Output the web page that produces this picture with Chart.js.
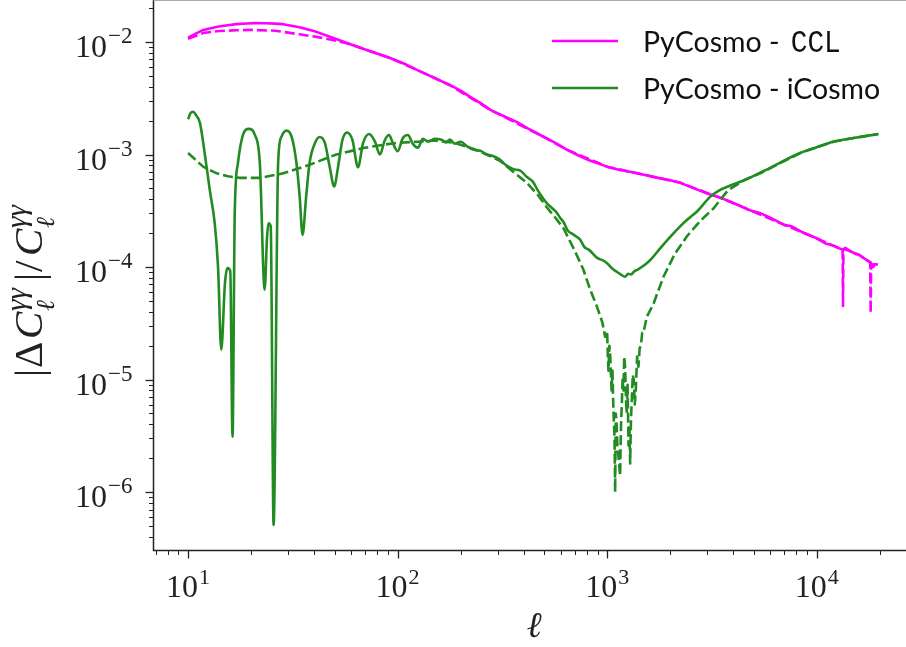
<!DOCTYPE html>
<html>
<head>
<meta charset="utf-8">
<script src="https://cdn.jsdelivr.net/npm/chart.js@4.4.1/dist/chart.umd.min.js"></script>
<style>
  html, body { margin: 0; padding: 0; overflow: hidden; background: #fff; }
</style>
</head>
<body>
<canvas id="plot" width="916" height="647"></canvas>
<script>
// PyCosmo - CCL, solid
const cclEll = [10, 11, 11.8, 13, 14, 15.5, 17, 19, 21, 23.5, 26, 28.4, 34, 41, 49, 59, 73.5, 92, 110, 125, 150, 177, 200, 222, 250, 277, 320, 370, 420, 479, 560, 645, 730, 820, 1000, 1150, 1300, 1500, 1750, 2000, 2240, 2600, 3000, 3400, 3870, 4300, 4800, 5400, 6000, 7000, 7600, 8500, 10000, 11000, 12000, 13000, 13360, 13700, 14500, 15500, 16000, 17000, 18100, 18600, 19000, 19600];
const cclRel = [1.09e-2, 1.2e-2, 1.28e-2, 1.33e-2, 1.37e-2, 1.41e-2, 1.44e-2, 1.46e-2, 1.47e-2, 1.465e-2, 1.455e-2, 1.44e-2, 1.35e-2, 1.23e-2, 1.09e-2, 9.6e-3, 8.3e-3, 7.2e-3, 6.3e-3, 5.6e-3, 4.8e-3, 4.15e-3, 3.7e-3, 3.25e-3, 2.85e-3, 2.49e-3, 2.2e-3, 1.95e-3, 1.7e-3, 1.49e-3, 1.28e-3, 1.1e-3, 9.8e-4, 8.9e-4, 7.8e-4, 7.3e-4, 7.0e-4, 6.6e-4, 6.2e-4, 5.9e-4, 5.6e-4, 5.0e-4, 4.5e-4, 4.2e-4, 3.8e-4, 3.5e-4, 3.2e-4, 3.0e-4, 2.75e-4, 2.37e-4, 2.3e-4, 2.05e-4, 1.8e-4, 1.62e-4, 1.55e-4, 1.45e-4, 1.42e-4, 1.48e-4, 1.38e-4, 1.3e-4, 1.28e-4, 1.18e-4, 1.1e-4, 1.0e-4, 1.06e-4, 1.05e-4];

// PyCosmo - CCL, dashed
const cclDashEll = [10, 11.8, 14, 17, 19.8, 26, 34, 41, 49, 55, 59, 73.5, 92, 125, 177, 277, 479, 645, 1000, 1500, 2240, 3870, 4800, 7000, 10000, 12000, 13000, 13300, 13360, 13420, 14500, 16000, 17000, 18000, 18100, 18200, 19000, 19600];
const cclDashRel = [1.07e-2, 1.2e-2, 1.25e-2, 1.27e-2, 1.28e-2, 1.26e-2, 1.17e-2, 1.11e-2, 1.04e-2, 9.9e-3, 9.6e-3, 8.3e-3, 7.2e-3, 5.6e-3, 4.15e-3, 2.49e-3, 1.49e-3, 1.1e-3, 7.8e-4, 6.6e-4, 5.6e-4, 3.8e-4, 3.2e-4, 2.37e-4, 1.8e-4, 1.55e-4, 1.45e-4, 1.42e-4, 4.5e-5, 1.45e-4, 1.38e-4, 1.28e-4, 1.18e-4, 1.1e-4, 3.9e-5, 1.05e-4, 1.06e-4, 1.05e-4];

// PyCosmo - iCosmo, solid
const icoEll = [10, 10.3, 10.56, 10.9, 11.4, 12.0, 12.7, 13.4, 13.9, 14.4, 15.0, 15.4, 15.9, 16.3, 16.7, 17.3, 18.3, 19.5, 20.8, 22, 23.2, 23.8, 24.2, 24.8, 25.6, 26.9, 27.9, 29.5, 31.2, 32.9, 34.1, 35.2, 36.6, 38, 40.3, 42.5, 45, 47.4, 49.8, 52, 54.5, 57.4, 60.9, 64.7, 68.4, 73.1, 78, 82.3, 86.9, 91, 95, 100, 106, 112, 118, 125, 132, 140, 150, 162, 170, 178, 187, 200, 215, 231, 248, 266, 285, 308, 330, 357, 385, 414, 440, 470, 515, 545, 570, 600, 620, 650, 680, 743, 780, 820, 900, 950, 1000, 1050, 1100, 1160, 1218, 1260, 1300, 1350, 1400, 1546, 1650, 1800, 2000, 2230, 2450, 2700, 3100, 3400, 3870, 4500, 5380, 6000, 6800, 8340, 10000, 12000, 15000, 19700];
const icoRel = [2.06e-3, 2.35e-3, 2.4e-3, 2.25e-3, 1.9e-3, 1.03e-3, 4.8e-4, 2.45e-4, 1.0e-4, 1.84e-5, 7.2e-5, 9.8e-5, 9.2e-5, 3.1e-6, 3.0e-4, 8.4e-4, 1.5e-3, 1.69e-3, 1.5e-3, 8.4e-4, 6.3e-5, 1.8e-4, 2.45e-4, 2.3e-4, 5.1e-7, 8.4e-4, 1.44e-3, 1.63e-3, 1.44e-3, 8.4e-4, 4.2e-4, 1.93e-4, 4.2e-4, 8.4e-4, 1.26e-3, 1.43e-3, 1.26e-3, 7.8e-4, 5.2e-4, 7.8e-4, 1.34e-3, 1.57e-3, 1.34e-3, 7.7e-4, 1.26e-3, 1.52e-3, 1.3e-3, 1.0e-3, 1.34e-3, 1.49e-3, 1.26e-3, 1.07e-3, 1.4e-3, 1.49e-3, 1.25e-3, 1.15e-3, 1.38e-3, 1.3e-3, 1.38e-3, 1.35e-3, 1.28e-3, 1.36e-3, 1.25e-3, 1.3e-3, 1.18e-3, 1.1e-3, 1.08e-3, 1.0e-3, 9.7e-4, 9.0e-4, 8.0e-4, 7.4e-4, 7.2e-4, 6.3e-4, 5.8e-4, 4.7e-4, 3.7e-4, 3.35e-4, 3.1e-4, 2.7e-4, 2.5e-4, 2.1e-4, 1.98e-4, 1.75e-4, 1.5e-4, 1.42e-4, 1.2e-4, 1.15e-4, 1.08e-4, 9.8e-5, 9.2e-5, 8.6e-5, 8.2e-5, 8.7e-5, 8.6e-5, 9.2e-5, 9.5e-5, 1.08e-4, 1.22e-4, 1.48e-4, 1.85e-4, 2.3e-4, 2.7e-4, 3.15e-4, 4.2e-4, 4.75e-4, 5.3e-4, 5.9e-4, 6.9e-4, 7.6e-4, 8.6e-4, 1.03e-3, 1.16e-3, 1.3e-3, 1.4e-3, 1.52e-3];

// PyCosmo - iCosmo, dashed
const icoDashEll = [10, 11.8, 13.7, 15.5, 17.7, 22, 28.4, 38, 51, 68.4, 85, 100, 125, 150, 187, 231, 266, 308, 357, 414, 470, 515, 570, 620, 700, 770, 830, 892, 930, 950, 978, 1000, 1008, 1015, 1025, 1035, 1050, 1060, 1071, 1085, 1092, 1100, 1110, 1120, 1130, 1153, 1165, 1175, 1185, 1196, 1207, 1218, 1230, 1240, 1252, 1265, 1277, 1288, 1300, 1312, 1325, 1340, 1355, 1370, 1390, 1411, 1430, 1450, 1470, 1490, 1546, 1663, 1858, 2100, 2400, 2800, 3210, 3770, 4500, 5380, 6800, 8340, 10000, 12000, 15000, 19700];
const icoDashRel = [1.03e-3, 7.8e-4, 6.8e-4, 6.4e-4, 6.2e-4, 6.2e-4, 6.8e-4, 8.1e-4, 1.0e-3, 1.14e-3, 1.22e-3, 1.27e-3, 1.3e-3, 1.33e-3, 1.27e-3, 1.12e-3, 1.0e-3, 8.8e-4, 7.0e-4, 5.6e-4, 4.3e-4, 3.4e-4, 2.7e-4, 2.2e-4, 1.4e-4, 9.5e-5, 6.3e-5, 4.5e-5, 3.6e-5, 3.2e-5, 2.4e-5, 2.7e-5, 1.6e-5, 1.2e-5, 2.0e-5, 1.6e-5, 8e-6, 1.2e-5, 5.5e-6, 3e-6, 1.0e-6, 5e-6, 4e-6, 2.6e-6, 2.2e-6, 1.4e-6, 4e-6, 6e-6, 1.0e-5, 8e-6, 1.6e-5, 1.3e-5, 7e-6, 5e-6, 9e-6, 2.6e-6, 4e-6, 1.8e-6, 4.5e-6, 6.7e-6, 1.1e-5, 1.0e-5, 6e-6, 8e-6, 1.6e-5, 1.3e-5, 1.9e-5, 2.0e-5, 2.6e-5, 2.6e-5, 3.6e-5, 4.7e-5, 8.2e-5, 1.3e-4, 1.87e-4, 2.6e-4, 3.3e-4, 4.8e-4, 5.9e-4, 6.8e-4, 8.5e-4, 1.03e-3, 1.16e-3, 1.3e-3, 1.4e-3, 1.52e-3];

const xTickExp = [1, 2, 3, 4];
const yTickExp = [-2, -3, -4, -5, -6];
const legendLabels = ['PyCosmo - ', 'PyCosmo - '];
const legendTails = ['CCL', 'iCosmo'];

const MAGENTA = '#ff00ff';
const GREEN = '#228b22';
const SERIF = '"Liberation Serif", "DejaVu Serif", serif';

const pts = (xs, ys) => xs.map((v, i) => ({x: v, y: ys[i]}));

const axesPlugin = {
  id: 'axesPlugin',
  afterDraw(chart) {
    const {ctx, chartArea: a, scales: {x, y}} = chart;
    ctx.save();

    // spines
    ctx.strokeStyle = '#222';
    ctx.lineWidth = 1.5;
    ctx.beginPath();
    ctx.moveTo(a.left, 0);
    ctx.lineTo(a.left, a.bottom);
    ctx.lineTo(chart.width, a.bottom);
    ctx.stroke();
    ctx.strokeStyle = '#aaa';
    ctx.lineWidth = 1.2;
    ctx.beginPath();
    ctx.moveTo(a.left, 0.5);
    ctx.lineTo(chart.width, 0.5);
    ctx.stroke();

    // ticks
    ctx.strokeStyle = '#222';
    for (let k = -7; k <= 5; k++) {
      for (let m = 1; m <= 9; m++) {
        const v = m * Math.pow(10, k);
        const len = m === 1 ? 8 : 4.5;
        ctx.lineWidth = m === 1 ? 1.3 : 1;
        if (v >= x.min && v <= x.max) {
          const px = Math.round(x.getPixelForValue(v)) + 0.5;
          ctx.beginPath();
          ctx.moveTo(px, a.bottom);
          ctx.lineTo(px, a.bottom + len);
          ctx.stroke();
        }
        if (v >= y.min && v <= y.max) {
          const py = Math.round(y.getPixelForValue(v)) + 0.5;
          ctx.beginPath();
          ctx.moveTo(a.left, py);
          ctx.lineTo(a.left - len, py);
          ctx.stroke();
        }
      }
    }

    // tick labels
    ctx.fillStyle = '#222';
    ctx.textAlign = 'left';
    ctx.textBaseline = 'alphabetic';
    xTickExp.forEach(e => {
      const px = x.getPixelForValue(Math.pow(10, e));
      ctx.font = '32px ' + SERIF;
      const w1 = ctx.measureText('10').width;
      ctx.font = '22px ' + SERIF;
      const sup = String(e);
      const w2 = ctx.measureText(sup).width;
      const sx = px - (w1 + w2 + 1) / 2;
      ctx.font = '32px ' + SERIF;
      ctx.fillText('10', sx, a.bottom + 46);
      ctx.font = '22px ' + SERIF;
      ctx.fillText(sup, sx + w1 + 1, a.bottom + 33);
    });
    yTickExp.forEach(e => {
      const py = y.getPixelForValue(Math.pow(10, e));
      const sup = String(e).replace('-', '\u2212');
      ctx.font = '23px ' + SERIF;
      const w2 = ctx.measureText(sup).width;
      ctx.font = '32px ' + SERIF;
      const w1 = ctx.measureText('10').width;
      const sx = a.left - 21 - w2 - 1 - w1;
      ctx.fillText('10', sx, py + 15);
      ctx.font = '23px ' + SERIF;
      ctx.fillText(sup, sx + w1 + 1, py + 1);
    });

    // x title
    ctx.font = 'italic 36px ' + SERIF;
    ctx.textAlign = 'center';
    ctx.fillText('\u2113', (a.left + a.right) / 2, 637);

    // y title, drawn piecewise and rotated
    ctx.save();
    ctx.translate(42, 377);
    ctx.rotate(-Math.PI / 2);
    ctx.textAlign = 'left';
    let cx = 0;
    const put = (t, italic, size, dy, adv) => {
      ctx.font = (italic ? 'italic ' : '') + size + 'px ' + SERIF;
      ctx.fillText(t, cx, dy);
      return adv;
    };
    const supsub = () => {
      put('\u03b3\u03b3', true, 29, -16, 0);
      put('\u2113', true, 26, 12, 0);
      cx += 30;
    };
    cx += put('|', false, 41, 0, 9);
    cx += put('\u0394', false, 41, 0, 29);
    cx += put('C', true, 41, 0, 28);
    supsub();
    cx += put('|', false, 41, 0, 9);
    cx += put('/', false, 41, 0, 16);
    cx += put('C', true, 41, 0, 28);
    supsub();
    ctx.restore();

    // legend
    const rows = [[MAGENTA, 41], [GREEN, 88]];
    rows.forEach(([col, ly], i) => {
      ctx.strokeStyle = col;
      ctx.lineWidth = 2.6;
      ctx.beginPath();
      ctx.moveTo(552, ly);
      ctx.lineTo(618, ly);
      ctx.stroke();
      ctx.fillStyle = '#111';
      ctx.textAlign = 'left';
      ctx.font = '28.5px Lato, "Open Sans", sans-serif';
      ctx.fillText(legendLabels[i], 643, ly + 11);
      const w = ctx.measureText(legendLabels[i]).width;
      if (i === 0) {
        ctx.font = '31px "Liberation Mono", "DejaVu Sans Mono", monospace';
        ctx.fillText(legendTails[i], 643 + w + 4, ly + 11, 50);
      } else {
        ctx.fillText(legendTails[i], 643 + w, ly + 11);
      }
    });

    ctx.restore();
  }
};

new Chart(document.getElementById('plot').getContext('2d'), {
  type: 'line',
  data: {
    datasets: [
      {
        label: 'PyCosmo - iCosmo (dashed)',
        data: pts(icoDashEll, icoDashRel),
        borderColor: GREEN,
        borderWidth: 2.6,
        borderDash: [10, 4],
        borderJoinStyle: 'round'
      },
      {
        label: 'PyCosmo - iCosmo',
        data: pts(icoEll, icoRel),
        borderColor: GREEN,
        borderWidth: 2.6,
        borderJoinStyle: 'round',
        cubicInterpolationMode: 'monotone',
        tension: 0.4
      },
      {
        label: 'PyCosmo - CCL (dashed)',
        data: pts(cclDashEll, cclDashRel),
        borderColor: MAGENTA,
        borderWidth: 2.6,
        borderDash: [10, 4],
        borderJoinStyle: 'round'
      },
      {
        label: 'PyCosmo - CCL',
        data: pts(cclEll, cclRel),
        borderColor: MAGENTA,
        borderWidth: 2.6,
        borderJoinStyle: 'round'
      }
    ]
  },
  options: {
    responsive: false,
    animation: false,
    layout: {
      padding: { left: 153.5, top: 0, right: 1.7, bottom: 96.5 }
    },
    elements: {
      point: { radius: 0 },
      line: { tension: 0, fill: false }
    },
    scales: {
      x: {
        type: 'logarithmic',
        display: false,
        bounds: 'data',
        min: Math.pow(10, 0.835),
        max: Math.pow(10, 4.466)
      },
      y: {
        type: 'logarithmic',
        display: false,
        bounds: 'data',
        min: Math.pow(10, -6.519),
        max: Math.pow(10, -1.627)
      }
    },
    plugins: {
      legend: { display: false },
      tooltip: { enabled: false }
    }
  },
  plugins: [axesPlugin]
});
</script>
</body>
</html>
